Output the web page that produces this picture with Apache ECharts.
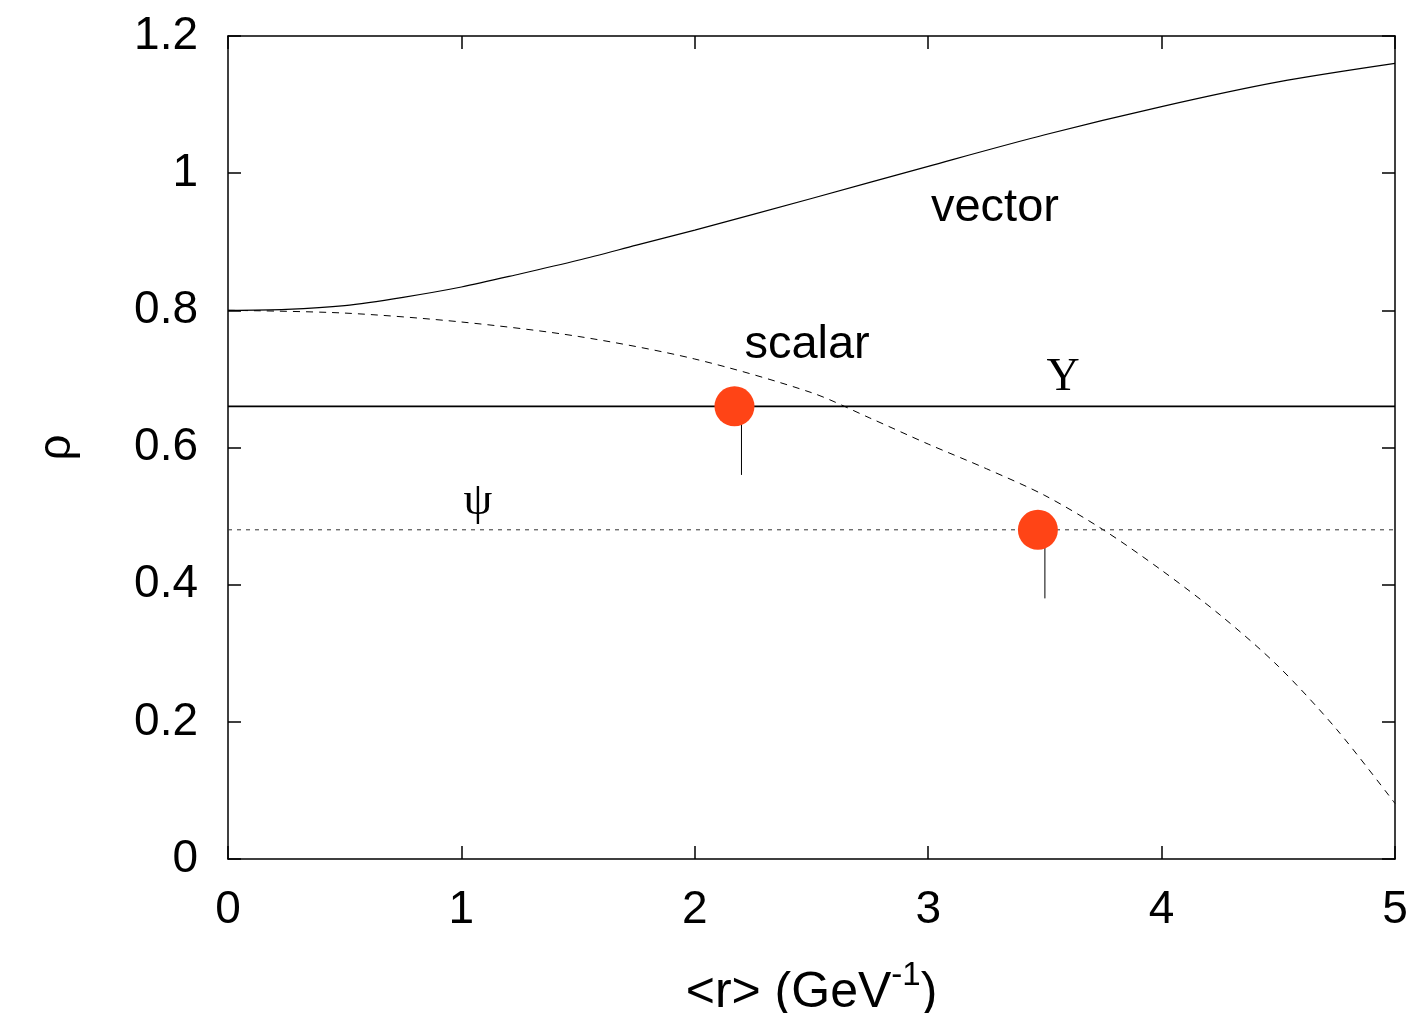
<!DOCTYPE html>
<html>
<head>
<meta charset="utf-8">
<script src="https://cdn.jsdelivr.net/npm/echarts@6/dist/echarts.min.js"></script>
<style>
html,body{margin:0;padding:0;background:#fff;}
#chart{width:1415px;height:1013px;}
</style>
</head>
<body>
<div id="chart"></div>
<script>
// r values (GeV^-1) and rho values
const vectorR   = [0, 0.25, 0.5, 0.75, 1, 1.25, 1.5, 1.75, 2, 2.5, 3, 3.5, 4, 4.5, 5];
const vectorRho = [0.800, 0.8015, 0.807, 0.819, 0.834, 0.853, 0.873, 0.895, 0.917, 0.963, 1.010, 1.056, 1.097, 1.133, 1.160];
const scalarR   = [0, 0.5, 1, 1.5, 2, 2.5, 2.75, 3, 3.25, 3.5, 3.75, 4, 4.25, 4.5, 4.75, 5];
const scalarRho = [0.800, 0.796, 0.783, 0.762, 0.729, 0.680, 0.643, 0.605, 0.569, 0.530, 0.480, 0.421, 0.356, 0.281, 0.189, 0.081];
const upsilonLevel = 0.66;
const psiLevel = 0.48;
const pointsR   = [2.17, 3.47];
const pointsRho = [0.66, 0.48];
const arrowR    = [2.2, 3.5];
const arrowLow  = [0.56, 0.38];
const arrowHigh = [0.65, 0.47];
const labelTexts = ['vector', 'scalar', 'Υ', 'ψ'];
const labelR     = [3.286, 2.481, 3.578, 1.071];
const labelRho   = [0.949, 0.7495, 0.701, 0.5206];
const xTicks = [0, 1, 2, 3, 4, 5];
const yTicks = [0, 0.2, 0.4, 0.6, 0.8, 1, 1.2];

const chart = echarts.init(document.getElementById('chart'));
const sans = '"Liberation Sans", Arial, Helvetica, sans-serif';
const serif = '"Liberation Serif", "Times New Roman", serif';

const series = [
  {
    type: 'line', data: vectorR.map((r, i) => [r, vectorRho[i]]),
    smooth: 0.3, symbol: 'none', lineStyle: {color: '#000', width: 1.2}, z: 3
  },
  {
    type: 'line', data: scalarR.map((r, i) => [r, scalarRho[i]]),
    smooth: 0.3, symbol: 'none', lineStyle: {color: '#000', width: 1, type: [7, 6]}, z: 3
  },
  {
    type: 'line', data: [[0, upsilonLevel], [5, upsilonLevel]],
    symbol: 'none', lineStyle: {color: '#000', width: 1.8}, z: 3
  },
  {
    type: 'line', data: [[0, psiLevel], [5, psiLevel]],
    symbol: 'none', lineStyle: {color: '#333', width: 1, type: [4, 5]}, z: 3
  }
];
arrowR.forEach((r, i) => {
  series.push({
    type: 'line', data: [[r, arrowLow[i]], [r, arrowHigh[i]]],
    symbol: 'none', lineStyle: {color: '#000', width: 1}, z: 4
  });
});
series.push({
  type: 'scatter', data: pointsR.map((r, i) => [r, pointsRho[i]]),
  symbol: 'circle', symbolSize: 40,
  itemStyle: {color: '#ff4416', opacity: 1}, z: 5
});
series.push({
  type: 'scatter', data: labelR.map((r, i) => ({value: [r, labelRho[i]], name: labelTexts[i]})),
  symbolSize: 0, z: 6, silent: true,
  itemStyle: {opacity: 1, color: '#000'},
  label: {
    show: true, position: 'inside', color: '#000', opacity: 1,
    formatter: p => (p.dataIndex >= 2 ? '{s|' + p.name + '}' : '{a|' + p.name + '}'),
    rich: {
      a: {fontFamily: sans, fontSize: 47, color: '#000'},
      s: {fontFamily: serif, fontSize: 46, color: '#000'}
    }
  }
});

chart.setOption({
  animation: false,
  backgroundColor: '#fff',
  grid: {left: 228, right: 20, top: 36, bottom: 154, containLabel: false, outerBoundsMode: 'none'},
  xAxis: [
    {
      type: 'value', min: 0, max: 5, interval: 1, position: 'bottom',
      axisLine: {show: true, onZero: false, lineStyle: {color: '#000', width: 1.5}},
      axisTick: {show: true, inside: true, length: 13, lineStyle: {color: '#000', width: 1.5}},
      axisLabel: {fontFamily: sans, fontSize: 46, color: '#000', margin: 28,
        formatter: v => xTicks.includes(v) ? String(v) : ''},
      splitLine: {show: false},
      name: '{a|<r> (GeV}{sup|-1}{a|)}',
      nameLocation: 'middle', nameGap: 100,
      nameTextStyle: {
        rich: {
          a: {fontFamily: sans, fontSize: 50, color: '#000'},
          sup: {fontFamily: sans, fontSize: 33, color: '#000', padding: [0, 0, 36, 0]}
        }
      }
    },
    {
      type: 'value', min: 0, max: 5, interval: 1, position: 'top',
      axisLine: {show: true, onZero: false, lineStyle: {color: '#000', width: 1.5}},
      axisTick: {show: true, inside: true, length: 13, lineStyle: {color: '#000', width: 1.5}},
      axisLabel: {show: false}, splitLine: {show: false}
    }
  ],
  yAxis: [
    {
      type: 'value', min: 0, max: 1.2, interval: 0.2, position: 'left',
      axisLine: {show: true, onZero: false, lineStyle: {color: '#000', width: 1.5}},
      axisTick: {show: true, inside: true, length: 13, lineStyle: {color: '#000', width: 1.5}},
      axisLabel: {fontFamily: sans, fontSize: 46, color: '#000', margin: 30,
        formatter: v => {
          const t = yTicks.find(y => Math.abs(y - v) < 1e-9);
          return t === undefined ? '' : String(t);
        }},
      splitLine: {show: false},
      name: 'ρ', nameLocation: 'middle', nameGap: 148, nameRotate: 90,
      nameTextStyle: {fontFamily: sans, fontSize: 46, color: '#000'}
    },
    {
      type: 'value', min: 0, max: 1.2, interval: 0.2, position: 'right',
      axisLine: {show: true, onZero: false, lineStyle: {color: '#000', width: 1.5}},
      axisTick: {show: true, inside: true, length: 13, lineStyle: {color: '#000', width: 1.5}},
      axisLabel: {show: false}, splitLine: {show: false}
    }
  ],
  series: series
});
</script>
</body>
</html>
